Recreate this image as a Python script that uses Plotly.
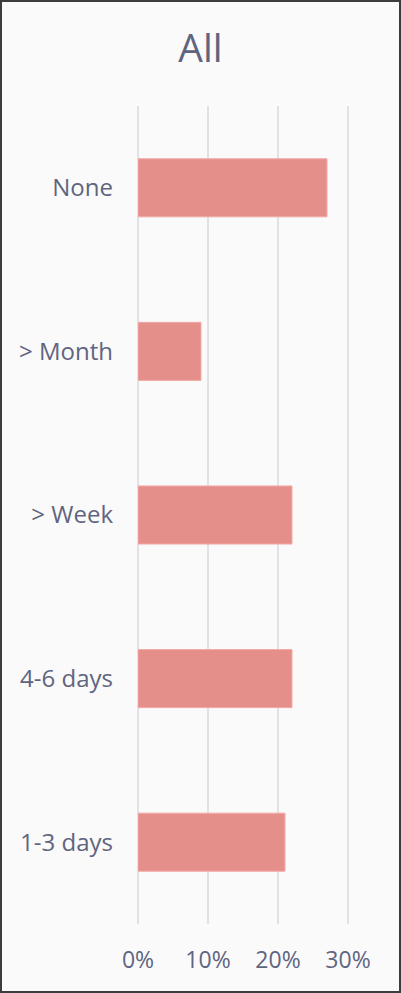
import plotly.graph_objects as go

categories = ["None", "> Month", "> Week", "4-6 days", "1-3 days"]
values = [27, 9, 22, 22, 21]
tick_vals = [0, 10, 20, 30]
tick_text = ["0%", "10%", "20%", "30%"]

text_color = "#5f6580"
bar_color = "#e58f8b"
grid_color = "#e1e1e8"

W, H = 401, 993
ml, mr, mt, mb = 138, 46, 106, 69

fig = go.Figure()
fig.add_trace(go.Bar(
    x=values,
    y=categories,
    orientation="h",
    width=0.355,
    marker=dict(color=bar_color, line=dict(color="#f2aaa7", width=1)),
    hovertemplate="%{y}: %{x}%<extra></extra>",
))

pw = W - ml - mr
ph = H - mt - mb
# border around the whole figure, in paper coordinates
fig.add_shape(
    type="rect", xref="paper", yref="paper",
    x0=(1 - ml) / pw, x1=(W - 1 - ml) / pw,
    y0=-(mb - 1) / ph, y1=1 + (mt - 1) / ph,
    line=dict(color="#3c3c3f", width=2),
    fillcolor="rgba(0,0,0,0)",
)

fig.update_layout(
    width=W, height=H,
    margin=dict(l=ml, r=mr, t=mt, b=mb, pad=0),
    paper_bgcolor="#fafafa",
    plot_bgcolor="#fafafa",
    font=dict(family="Open Sans", color=text_color, size=23),
    title=dict(text="All", x=0.5, xref="container", xanchor="center",
               y=1 - 48 / H, yanchor="middle",
               font=dict(size=39, color=text_color)),
    showlegend=False,
    xaxis=dict(
        range=[0, 31],
        tickvals=tick_vals,
        ticktext=tick_text,
        showgrid=True,
        gridcolor=grid_color,
        gridwidth=2,
        zeroline=True,
        zerolinecolor=grid_color,
        zerolinewidth=2,
        showline=False,
        ticks="",
        ticklabelstandoff=20,
        fixedrange=True,
    ),
    yaxis=dict(
        categoryorder="array",
        categoryarray=categories[::-1],
        tickfont=dict(size=24),
        showgrid=False,
        zeroline=False,
        showline=False,
        ticks="",
        ticklabelstandoff=24,
        fixedrange=True,
    ),
)

fig.write_html("out.html", config={"displayModeBar": False},
               post_script="document.body.style.margin='0';")
